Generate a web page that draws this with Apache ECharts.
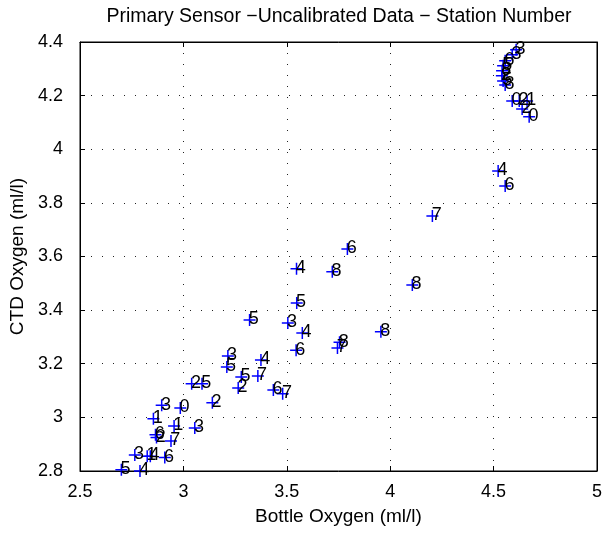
<!DOCTYPE html>
<html>
<head>
<meta charset="utf-8">
<script src="https://cdn.jsdelivr.net/npm/echarts@6/dist/echarts.min.js"></script>
<style>
html,body{margin:0;padding:0;background:#fff;}
#chart{width:605px;height:533px;}
</style>
</head>
<body>
<div id="chart"></div>
<script>
// Bottle oxygen (x, ml/l)
const bottleO2 = [
  2.70, 2.79, 2.765, 2.825, 2.84, 2.91, 2.855, 2.895, 2.985, 2.955,
  3.055, 2.865, 2.87, 2.94, 3.04, 3.09, 3.14, 3.21, 3.215, 3.375,
  3.28, 3.36, 3.265, 3.435, 3.48, 3.32, 3.505, 3.575, 3.545, 3.548,
  3.755, 3.745, 3.955, 3.547, 3.72, 3.793, 4.107, 4.204, 4.522, 4.556,
  4.609, 4.59, 4.556, 4.546, 4.541, 4.54, 4.546, 4.556,
  4.59, 4.624, 4.662, 4.638, 4.672
];
// CTD oxygen (y, ml/l)
const ctdO2 = [
  2.805, 2.80, 2.86, 2.855, 2.855, 2.85, 2.995, 3.045, 3.035, 2.968,
  2.96, 2.935, 2.925, 2.912, 3.125, 3.125, 3.055, 3.188, 3.229, 3.214,
  3.151, 3.154, 3.11, 3.102, 3.088, 3.363, 3.352, 3.315, 3.25, 3.427,
  3.28, 3.259, 3.319, 3.554, 3.543, 3.628, 3.494, 3.751, 3.919, 3.863,
  4.371, 4.352, 4.33, 4.311, 4.293, 4.274, 4.255, 4.24,
  4.18, 4.18, 4.18, 4.15, 4.121
];
// Station number labels
const stationLabels = [
  '5','4','3','1','4','6','1','3','0','1',
  '3','6','2','7','2','5','2','5','3','4',
  '5','7','2','6','7','5','3','4','6','5',
  '8','7','8','4','8','6','8','7','4','6',
  '3','3','6','5','8','2','5','8',
  '0','2','1','2','0'
];
const xTicks = {min: 2.5, max: 5, interval: 0.5};
const yTicks = {min: 2.8, max: 4.4, interval: 0.2};

const points = bottleO2.map((x, i) => [x, ctdO2[i], stationLabels[i]]);
const FONT = 'Liberation Sans';

const chart = echarts.init(document.getElementById('chart'), null, {renderer: 'canvas'});
const gridDots = {show: true, lineStyle: {type: [1, 10], color: '#222', width: 1}};
const tickStyle = {show: true, inside: true, length: 5, lineStyle: {color: '#000'}};
chart.setOption({
  animation: false,
  backgroundColor: '#fff',
  textStyle: {fontFamily: FONT},
  graphic: [{
    type: 'text', x: 339, y: 7,
    style: {text: 'Primary Sensor \u2212Uncalibrated Data \u2212 Station Number',
      font: '19.5px "Liberation Sans"', fill: '#000', textAlign: 'center', textVerticalAlign: 'top'}
  }],
  grid: {left: 80, right: 7, top: 42, bottom: 62, show: true, borderColor: '#000', borderWidth: 1},
  xAxis: [{
    type: 'value', min: xTicks.min, max: xTicks.max, interval: xTicks.interval,
    axisLine: {show: true, onZero: false, lineStyle: {color: '#000'}},
    axisTick: tickStyle,
    axisLabel: {fontSize: 18, color: '#000', margin: 12, fontFamily: FONT},
    splitLine: gridDots,
    name: 'Bottle Oxygen (ml/l)', nameLocation: 'middle', nameGap: 36,
    nameTextStyle: {fontSize: 19, color: '#000', fontFamily: FONT}
  }, {
    type: 'value', position: 'top', min: xTicks.min, max: xTicks.max, interval: xTicks.interval,
    axisLine: {show: true, onZero: false, lineStyle: {color: '#000'}},
    axisTick: tickStyle, axisLabel: {show: false}, splitLine: {show: false}
  }],
  yAxis: [{
    type: 'value', min: yTicks.min, max: yTicks.max, interval: yTicks.interval,
    axisLine: {show: true, onZero: false, lineStyle: {color: '#000'}},
    axisTick: tickStyle,
    axisLabel: {fontSize: 18, color: '#000', margin: 17, fontFamily: FONT},
    splitLine: gridDots,
    name: 'CTD Oxygen (ml/l)', nameLocation: 'middle', nameGap: 41, nameRotate: 90,
    nameTextStyle: {fontSize: 19, color: '#000', fontFamily: FONT}
  }, {
    type: 'value', position: 'right', min: yTicks.min, max: yTicks.max, interval: yTicks.interval,
    axisLine: {show: true, onZero: false, lineStyle: {color: '#000'}},
    axisTick: tickStyle, axisLabel: {show: false}, splitLine: {show: false}
  }],
  series: [{
    type: 'scatter',
    xAxisIndex: 0, yAxisIndex: 0,
    data: points,
    symbol: 'path://M0,6L12,6M6,0L6,12',
    symbolSize: 12,
    itemStyle: {color: 'rgba(0,0,0,0)', borderColor: '#0000ff', borderWidth: 1.5, opacity: 1},
    label: {
      show: true,
      formatter: p => p.data[2],
      position: [6, 6],
      align: 'left', verticalAlign: 'middle',
      fontSize: 18, color: '#000', fontFamily: FONT
    },
    emphasis: {disabled: true}
  }]
});
</script>
</body>
</html>
